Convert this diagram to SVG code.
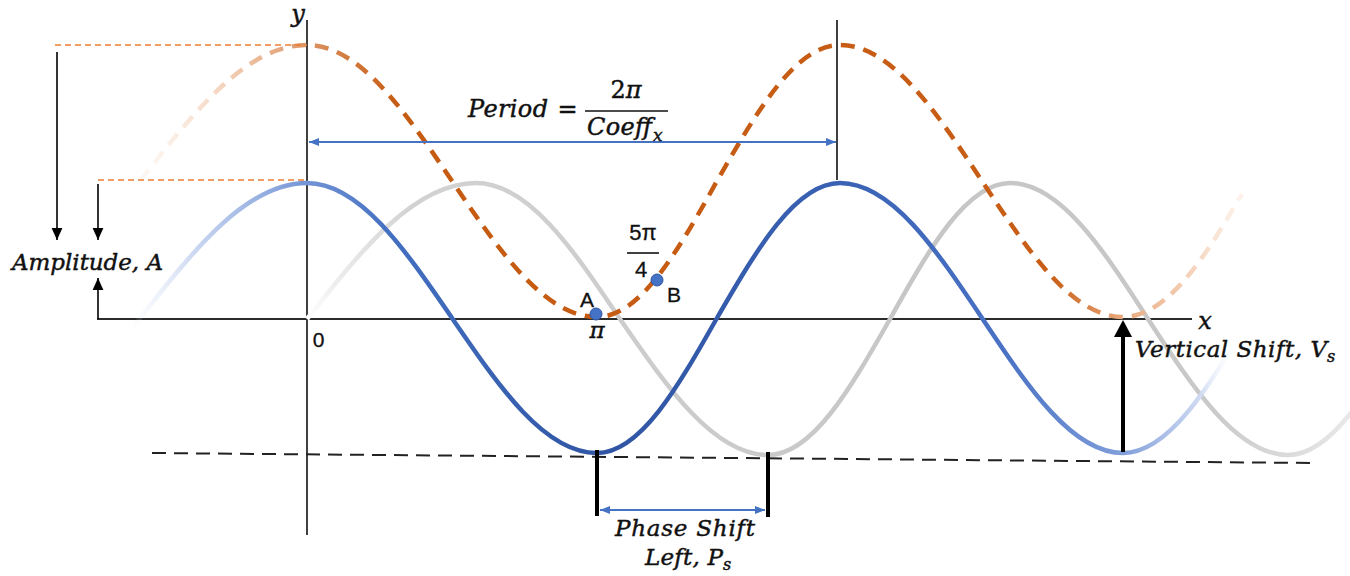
<svg xmlns="http://www.w3.org/2000/svg" width="1350" height="576" viewBox="0 0 1350 576">
<style>
.ax{stroke:#2b2b2b;stroke-width:1.8;fill:none}
.amp{stroke:#ED7D31;stroke-width:1.6;stroke-dasharray:6 4;fill:none}
.blk{stroke:#000;stroke-width:1.6;fill:none}
.thick{stroke:#000;stroke-width:4;fill:none}
.bl{stroke:#4472C4;stroke-width:1.8;fill:none}
.it{font-family:"DejaVu Serif","Liberation Serif",serif;font-style:italic;fill:#111;stroke:#111;stroke-width:0.45}
.up{font-family:"DejaVu Serif","Liberation Serif",serif;fill:#111;stroke:#111;stroke-width:0.45}
.sans{font-family:"Liberation Sans",Arial,sans-serif;fill:#111;stroke:#111;stroke-width:0.3}
</style>
<defs>
<marker id="ahB" markerUnits="userSpaceOnUse" markerWidth="12" markerHeight="12" refX="10" refY="5" orient="auto-start-reverse" viewBox="0 0 10 10"><path d="M0,0.5 L10,5 L0,9.5 z" fill="#000"/></marker>
<marker id="ahU" markerUnits="userSpaceOnUse" markerWidth="12" markerHeight="10" refX="10" refY="5" orient="auto-start-reverse" viewBox="0 0 10 10"><path d="M0,1 L10,5 L0,9 z" fill="#4472C4"/></marker>
<linearGradient id="gBlue" gradientUnits="userSpaceOnUse" x1="130" y1="0" x2="1250" y2="0">
<stop offset="0" stop-color="#dfe7f6" stop-opacity="0"/>
<stop offset="0.06" stop-color="#c8d6f0"/>
<stop offset="0.158" stop-color="#7394d6"/>
<stop offset="0.23" stop-color="#4470c2"/>
<stop offset="0.42" stop-color="#2f55a3"/>
<stop offset="0.634" stop-color="#3a62b4"/>
<stop offset="0.78" stop-color="#4a72c4"/>
<stop offset="0.887" stop-color="#819fda"/>
<stop offset="0.955" stop-color="#cfdaf2"/>
<stop offset="0.99" stop-color="#ffffff" stop-opacity="0"/>
</linearGradient>
<linearGradient id="gOr" gradientUnits="userSpaceOnUse" x1="140" y1="0" x2="1250" y2="0">
<stop offset="0" stop-color="#fbeee5" stop-opacity="0.4"/>
<stop offset="0.072" stop-color="#f5d5bf"/>
<stop offset="0.15" stop-color="#dc9564"/>
<stop offset="0.234" stop-color="#c55a11"/>
<stop offset="0.82" stop-color="#c85e16"/>
<stop offset="0.883" stop-color="#e8a77a"/>
<stop offset="0.937" stop-color="#f2cbb0"/>
<stop offset="0.99" stop-color="#fdf3ec"/>
</linearGradient>
<linearGradient id="gGray" gradientUnits="userSpaceOnUse" x1="307" y1="0" x2="1350" y2="0">
<stop offset="0" stop-color="#ffffff"/>
<stop offset="0.03" stop-color="#ececec"/>
<stop offset="0.1" stop-color="#d2d2d2"/>
<stop offset="0.6" stop-color="#c6c6c6"/>
<stop offset="0.86" stop-color="#c8c8c8"/>
<stop offset="1" stop-color="#e8e8e8"/>
</linearGradient>
</defs>

<g id="axes">
<line class="ax" x1="97" y1="319" x2="1192" y2="319"/>
<line class="ax" x1="307" y1="20" x2="307" y2="535" stroke-width="2"/>
<line class="ax" x1="837" y1="20" x2="837" y2="180" stroke-width="2"/>
<line x1="152" y1="453" x2="1313" y2="463" stroke="#222" stroke-width="2" stroke-dasharray="14 8"/>
</g>

<g id="curves">
<path id="gray-curve" d="M307,319 C362.1,249 414.8,183 476,183 C528.1,183 573,249 620,319 C668.3,389 714.4,455 768,455 C812.2,455 850.2,389 890,319 C929.1,249 966.6,183 1010,183 C1059.9,183 1103,249 1148,319 C1193.7,389 1237.3,455 1288,455 C1332.2,455 1370.2,389 1410,319" fill="none" stroke="url(#gGray)" stroke-width="4.5"/>
<path id="blue-curve" d="M130,333 C133,328 136,323 140,318 C194.5,249 246.6,183 307,183 C359.5,183 404.7,249 452,318 C499.3,387 544.5,453 597,453 C640.4,453 677.9,387 717,318 C757.1,249 795.5,183 840,183 C891.4,183 935.7,249 982,318 C1028,387 1072,453 1123,453 C1169,453 1208.6,387 1250,318" fill="none" stroke="url(#gBlue)" stroke-width="4.5"/>
<path id="orange-curve" d="M140,181 C194.5,111 246.6,45 307,45 C359.5,45 404.7,111 452,181 C499.3,251 544.5,317 597,317 C640.4,317 677.9,251 717,181 C757.1,111 795.5,45 840,45 C891.4,45 935.7,111 982,181 C1028,251 1072,317 1123,317 C1169,317 1208.6,251 1242,194" fill="none" stroke="url(#gOr)" stroke-width="4.5" stroke-dasharray="14 9"/>
</g>

<g id="connectors">
<line class="amp" x1="55" y1="45" x2="307" y2="45"/>
<line class="amp" x1="98" y1="180" x2="307" y2="180"/>
<line class="blk" x1="57" y1="52" x2="57" y2="240" marker-end="url(#ahB)"/>
<line class="blk" x1="98" y1="184" x2="98" y2="240" marker-end="url(#ahB)"/>
<line class="blk" x1="98" y1="319" x2="98" y2="278" marker-end="url(#ahB)"/>
<line class="bl" x1="309" y1="142" x2="836" y2="142" marker-start="url(#ahU)" marker-end="url(#ahU)"/>
<line class="bl" x1="600" y1="510" x2="765" y2="510" marker-start="url(#ahU)" marker-end="url(#ahU)"/>
<line class="thick" x1="597" y1="450" x2="597" y2="516"/>
<line class="thick" x1="768" y1="452" x2="768" y2="517"/>
<line class="thick" x1="1123" y1="452" x2="1123" y2="334"/>
<path d="M1114,337 L1132,337 L1123,320 z" fill="#000"/>
</g>

<g id="point-A">
<circle cx="596" cy="314" r="6" fill="#4472C4" stroke="#2f55a3" stroke-width="1"/>
<text class="sans" x="587" y="307" font-size="21" text-anchor="middle">A</text>
<text class="it" x="597" y="338" font-size="23" text-anchor="middle">π</text>
</g>
<g id="point-B">
<circle cx="657" cy="280" r="6" fill="#4472C4" stroke="#2f55a3" stroke-width="1"/>
<text class="sans" x="674" y="302" font-size="21" text-anchor="middle">B</text>
<text class="sans" x="643" y="240" font-size="22" text-anchor="middle">5π</text>
<line x1="627" y1="253" x2="659" y2="253" stroke="#111" stroke-width="1.6"/>
<text class="sans" x="641" y="277" font-size="22" text-anchor="middle">4</text>
</g>

<g id="labels">
<text class="it" x="298" y="22" font-size="24" text-anchor="middle">y</text>
<text class="it" x="1205" y="329" font-size="24" text-anchor="middle">x</text>
<text class="sans" x="318.5" y="347" font-size="21" text-anchor="middle">0</text>
<text class="it" x="12" y="270" font-size="23" textLength="151">Amplitude, A</text>
</g>

<g id="period-label">
<text class="it" x="468" y="117" font-size="24" textLength="80">Period</text>
<text class="up" x="567.5" y="117" font-size="24" text-anchor="middle">=</text>
<text class="up" x="626" y="98" font-size="24" text-anchor="middle">2<tspan font-style="italic">π</tspan></text>
<line x1="585" y1="111" x2="668" y2="111" stroke="#111" stroke-width="1.6"/>
<text class="it" x="587" y="135" font-size="24" textLength="65">Coeff</text>
<text class="it" x="653" y="141" font-size="17">x</text>
</g>

<g id="vshift-label">
<text class="it" x="1135" y="357" font-size="23" textLength="192">Vertical Shift, V</text>
<text class="it" x="1327" y="362" font-size="16">s</text>
</g>

<g id="phase-label">
<text class="it" x="615" y="536" font-size="23" textLength="140">Phase Shift</text>
<text class="it" x="645" y="565" font-size="23" textLength="78">Left, P</text>
<text class="it" x="723" y="570" font-size="16">s</text>
</g>
</svg>
